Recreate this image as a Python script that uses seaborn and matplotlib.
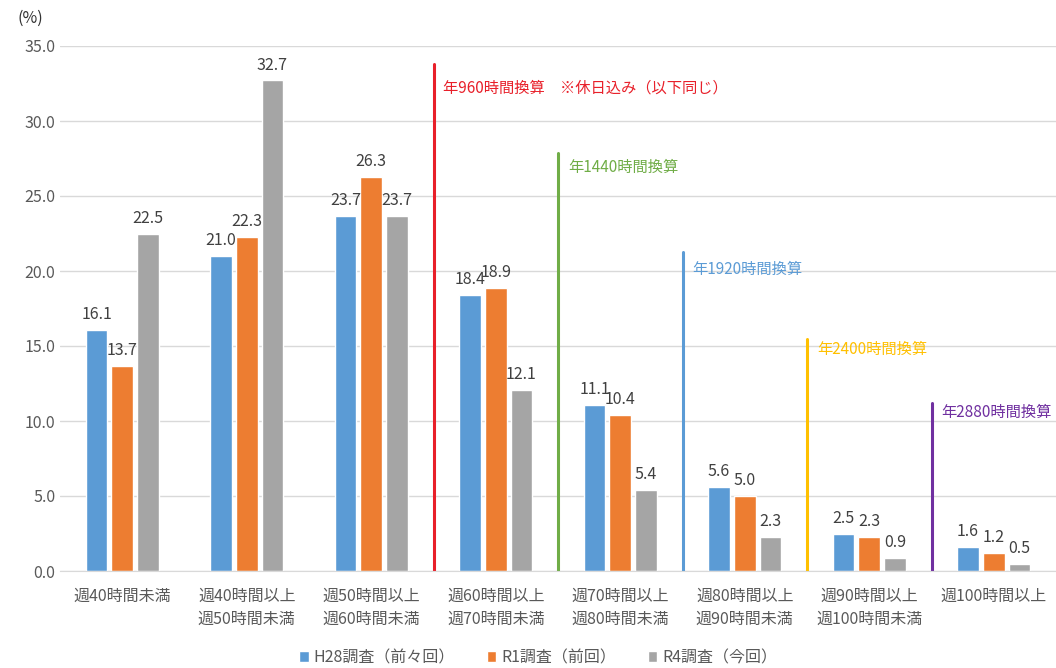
import matplotlib
matplotlib.use("Agg")
import matplotlib.pyplot as plt
import pandas as pd
import seaborn as sns

categories = ["週40時間未満", "週40時間以上\n週50時間未満", "週50時間以上\n週60時間未満",
              "週60時間以上\n週70時間未満", "週70時間以上\n週80時間未満", "週80時間以上\n週90時間未満",
              "週90時間以上\n週100時間未満", "週100時間以上"]
series = ["H28調査（前々回）", "R1調査（前回）", "R4調査（今回）"]
h28 = [16.1, 21.0, 23.7, 18.4, 11.1, 5.6, 2.5, 1.6]
r1 = [13.7, 22.3, 26.3, 18.9, 10.4, 5.0, 2.3, 1.2]
r4 = [22.5, 32.7, 23.7, 12.1, 5.4, 2.3, 0.9, 0.5]
colors = ["#5B9BD5", "#ED7D31", "#A5A5A5"]

# annual-hours marker lines: (position, top value, label, colour, label y)
markers = [
    (2.5, 33.8, "年960時間換算　※休日込み（以下同じ）", "#E8202A", 32.2),
    (3.5, 27.9, "年1440時間換算", "#70AD47", 26.9),
    (4.5, 21.3, "年1920時間換算", "#5B9BD5", 20.1),
    (5.5, 15.5, "年2400時間換算", "#FFC000", 14.8),
    (6.5, 11.2, "年2880時間換算", "#7030A0", 10.6),
]

df = pd.DataFrame({"cat": categories * 3,
                   "series": [s for s in series for _ in categories],
                   "value": h28 + r1 + r4})

sns.set_style("white")
plt.rcParams["font.family"] = ["Noto Sans CJK JP", "DejaVu Sans"]
text_color = "#595959"

fig = plt.figure(figsize=(10.56, 6.68), dpi=100)
ax = fig.add_axes([60 / 1056, 97 / 668, 996 / 1056, 525 / 668])

sns.barplot(data=df, x="cat", y="value", hue="series", palette=colors,
            saturation=1, width=0.62, gap=0.15, ax=ax, legend=True)

for cont in ax.containers:
    ax.bar_label(cont, fmt="%.1f", padding=5, fontsize=11.5, color="#404040")

for pos, top, label, col, ly in markers:
    ax.plot([pos, pos], [0, top], color=col, lw=2.2, zorder=1)
    ax.text(pos + 0.08, ly, label, color=col, fontsize=11, va="center", ha="left")

ax.set_ylim(0, 35)
ax.set_xlim(-0.5, 7.5)
ax.set_yticks([i * 5 for i in range(8)])
ax.set_yticklabels([f"{i * 5:.1f}" for i in range(8)])
ax.yaxis.grid(True, color="#D9D9D9", lw=1)
ax.set_axisbelow(True)
for s in ["top", "right", "left"]:
    ax.spines[s].set_visible(False)
ax.spines["bottom"].set_color("#D9D9D9")
ax.tick_params(axis="both", length=0, colors=text_color, labelsize=11.5)
ax.tick_params(axis="x", pad=12)
for t in ax.get_xticklabels():
    t.set_linespacing(1.5)
ax.set_xlabel("")
ax.set_ylabel("")
fig.text(30 / 1056, 1 - 18 / 668, "(%)", fontsize=11.5, color="#333333", ha="center", va="center")

leg = ax.legend(loc="center", bbox_to_anchor=(0.48, -0.165), ncol=3, frameon=False,
                fontsize=11.5, handlelength=0.6, handleheight=0.6, handletextpad=0.3,
                columnspacing=2.0)
for t in leg.get_texts():
    t.set_color(text_color)

fig.savefig("out.png", dpi=100)
